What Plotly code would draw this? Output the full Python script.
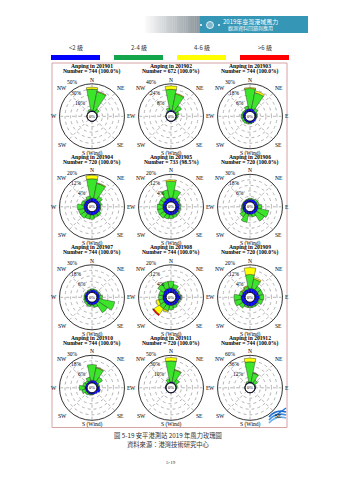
import numpy as np
import plotly.graph_objects as go

# ---- data -----------------------------------------------------------------
DIRECTIONS = ["N", "NNE", "NE", "ENE", "E", "ESE", "SE", "SSE",
              "S", "SSW", "SW", "WSW", "W", "WNW", "NW", "NNW"]
MONTHS = ["201901", "201902", "201903", "201904", "201905", "201906",
          "201907", "201908", "201909", "201910", "201911", "201912"]
COUNTS = [744, 672, 744, 720, 733, 720, 744, 744, 720, 744, 720, 744]
COVERAGE = ["100.0%", "100.0%", "100.0%", "100.0%", "98.5%", "100.0%",
            "100.0%", "100.0%", "100.0%", "100.0%", "100.0%", "100.0%"]
RING_STEP = [10, 8, 6, 4, 4, 6, 6, 4, 4, 6, 10, 12]   # % per ring, 5 rings
CLASS_LABELS = ["<2 級", "2-4 級", "4-6 級", ">6 級"]
COMPASS = ["N", "NE", "E", "SE", "S (Wind)", "SW", "W", "NW"]

# frequency (%) by direction, one row per month
SPEED_LT2 = [
    [1.5, 1.5, 1.0, 0.8, 0.8, 0.5, 0.5, 0.5, 0.8, 0.5, 0.5, 0.5, 0.5, 0.5, 0.8, 1.2],
    [2.0, 2.0, 1.5, 1.0, 1.0, 1.0, 0.8, 0.6, 0.6, 0.5, 0.5, 0.5, 0.5, 0.5, 0.8, 1.5],
    [3.0, 3.0, 2.0, 2.0, 2.0, 2.0, 2.0, 2.0, 2.0, 2.0, 2.0, 2.0, 2.5, 2.5, 2.5, 3.0],
    [2.8, 2.8, 2.5, 2.5, 2.5, 2.5, 2.5, 2.5, 2.5, 2.5, 2.5, 2.5, 2.5, 2.5, 2.5, 2.5],
    [3.0, 3.0, 2.5, 2.5, 2.5, 2.5, 2.5, 2.5, 2.5, 2.5, 2.5, 2.5, 2.5, 2.5, 2.5, 3.0],
    [3.0, 3.0, 3.0, 3.0, 3.5, 3.5, 3.5, 3.0, 3.0, 3.0, 3.0, 3.0, 3.0, 3.0, 3.0, 3.0],
    [3.0, 3.0, 3.0, 3.0, 3.0, 3.0, 3.0, 3.0, 3.0, 3.0, 2.5, 2.5, 2.5, 2.5, 2.5, 2.5],
    [3.2, 3.0, 2.5, 2.5, 3.5, 2.5, 2.5, 2.5, 2.5, 2.5, 2.5, 2.5, 2.5, 2.5, 3.0, 3.2],
    [3.0, 3.0, 3.0, 3.0, 3.5, 3.0, 3.0, 3.0, 3.0, 3.0, 3.0, 3.0, 3.0, 2.5, 2.5, 2.5],
    [3.0, 3.0, 2.5, 2.0, 2.5, 4.0, 2.5, 2.0, 2.0, 2.0, 2.0, 2.0, 2.5, 2.0, 2.0, 2.5],
    [2.0, 2.0, 1.5, 1.0, 1.0, 1.0, 0.8, 0.8, 0.8, 0.8, 0.8, 0.8, 1.0, 1.0, 1.0, 1.5],
    [2.0, 2.0, 1.5, 1.0, 1.0, 0.8, 0.8, 0.6, 0.6, 0.6, 0.6, 0.6, 0.8, 0.8, 1.0, 1.5],
]
SPEED_2_4 = [
    [39.0, 35.0, 6.0, 1.0, 0.0, 0.0, 0.0, 0.0, 0.0, 0.0, 0.0, 0.0, 0.0, 0.0, 0.5, 3.0],
    [30.0, 24.0, 10.0, 4.0, 2.0, 1.0, 0.0, 0.0, 0.0, 0.0, 0.0, 0.0, 0.0, 0.0, 0.5, 4.0],
    [22.0, 18.0, 3.0, 1.0, 0.5, 0.0, 0.0, 0.5, 1.0, 1.5, 2.0, 2.0, 2.0, 1.5, 1.0, 3.0],
    [14.0, 11.0, 3.0, 1.0, 0.5, 0.5, 2.0, 2.0, 3.0, 3.0, 4.0, 4.0, 4.5, 2.0, 1.0, 2.0],
    [12.0, 6.0, 2.0, 1.0, 1.0, 1.0, 1.5, 2.0, 2.5, 3.0, 4.0, 4.0, 4.0, 3.0, 3.0, 6.0],
    [1.0, 1.0, 2.0, 2.0, 4.0, 12.0, 10.0, 3.0, 2.0, 9.0, 5.0, 2.0, 1.0, 0.5, 0.5, 0.5],
    [1.0, 1.0, 1.0, 1.5, 3.0, 17.0, 12.0, 3.0, 1.5, 2.0, 2.0, 1.5, 1.0, 1.0, 0.5, 1.0],
    [5.0, 3.0, 1.0, 1.0, 1.0, 1.0, 1.0, 2.0, 3.0, 4.0, 4.0, 3.0, 3.0, 3.0, 5.0, 5.0],
    [10.0, 7.0, 3.0, 3.0, 3.0, 3.0, 1.0, 1.0, 1.0, 1.0, 3.0, 5.0, 5.0, 2.0, 1.0, 2.0],
    [17.0, 14.0, 6.0, 1.0, 0.5, 0.0, 0.0, 0.0, 0.5, 1.0, 2.0, 4.0, 6.0, 3.0, 2.0, 4.0],
    [38.0, 22.0, 8.0, 2.0, 1.0, 0.0, 0.0, 0.0, 0.0, 0.0, 0.0, 0.0, 0.5, 0.5, 1.0, 6.0],
    [44.0, 20.0, 8.0, 2.0, 0.5, 0.0, 0.0, 0.0, 0.0, 0.0, 0.0, 0.0, 0.0, 0.0, 0.5, 3.0],
]
SPEED_4_6 = [
    [3.5, 1.0, 0, 0, 0, 0, 0, 0, 0, 0, 0, 0, 0, 0, 0, 0],
    [5.0, 1.0, 0, 0, 0, 0, 0, 0, 0, 0, 0, 0, 0, 0, 0, 0],
    [1.0, 2.0, 0, 0, 0, 0, 0, 0, 0, 0, 0, 0, 0, 0, 0, 0],
    [2.5, 0.5, 0, 0, 0, 0, 0, 0, 0, 0, 0, 0, 0, 0, 0, 0],
    [1.0, 0, 0, 0, 0, 0, 0, 0, 0, 0, 0, 0, 0, 0, 0, 0],
    [0, 0, 0, 0, 0, 0, 0, 0, 0, 0, 0, 0, 0, 0, 0, 0],
    [0, 0, 0, 0, 0, 0, 0, 0, 0, 0, 0, 0, 0, 0, 0, 0],
    [0, 0, 0, 0, 0, 0, 0, 0, 0, 1.0, 5.0, 2.0, 0, 0, 0, 0],
    [5.0, 1.0, 0, 0, 0, 0, 0, 0, 0, 0, 0, 0, 0, 0, 0.5, 0.5],
    [0, 0.5, 0, 0, 0, 0, 0, 0, 0, 0, 0, 0, 0, 0, 0, 0],
    [6.0, 1.0, 0, 0, 0, 0, 0, 0, 0, 0, 0, 0, 0, 0, 0, 0],
    [8.0, 1.0, 0, 0, 0, 0, 0, 0, 0, 0, 0, 0, 0, 0, 0, 0],
]
SPEED_GT6 = [
    [0] * 16, [0] * 16, [0] * 16, [0] * 16, [0] * 16, [0] * 16, [0] * 16,
    [0, 0, 0, 0, 0, 0, 0, 0, 0, 0, 1.0, 0, 0, 0, 0, 0],
    [0] * 16, [0] * 16, [0] * 16, [0] * 16,
]

# ---- styling ---------------------------------------------------------------
W, H = 339, 480
SERIF = "Liberation Serif"
CJK = "Noto Sans CJK TC"
ROSE_COLORS = ["#0a0aff", "#3be62a", "#ffff00", "#ff0000"]
LEGEND_COLORS = ["#0000ff", "#12a54a", "#ffff00", "#ff0000"]
CLASS_DATA = [SPEED_LT2, SPEED_2_4, SPEED_4_6, SPEED_GT6]
GRID = "#b4b4b4"
HOLE = 0.15
RING_LABEL_BEARING = -22.5   # ring labels sit along NNW


def px(x):
    return x / W


def py(y):
    return 1 - y / H


def label(x, y, text, size, family=SERIF, color="black",
          xanchor="center", yanchor="middle"):
    return dict(x=px(x), y=py(y), xref="paper", yref="paper", text=text,
                showarrow=False, xanchor=xanchor, yanchor=yanchor, borderpad=0,
                font=dict(family=family, size=size, color=color))


fig = go.Figure()
annotations = []
shapes = []
theta = [i * 22.5 for i in range(16)]
R = 32.5

for k, month in enumerate(MONTHS):
    row, col = divmod(k, 3)
    cx, cy = 92 + 79 * col, 116.3 + 90.5 * row
    name = "polar" if k == 0 else f"polar{k + 1}"
    for cls, data in enumerate(CLASS_DATA):
        fig.add_trace(go.Barpolar(
            r=data[k], theta=theta, width=[22.5] * 16,
            marker=dict(color=ROSE_COLORS[cls], line=dict(color="#202020", width=0.4)),
            subplot=name, showlegend=False, hoverinfo="skip"))
    # calm circle
    fig.add_trace(go.Scatterpolar(
        r=[0] * 73, theta=np.linspace(0, 360, 73), mode="lines",
        line=dict(color="black", width=0.7), subplot=name,
        showlegend=False, hoverinfo="skip"))
    step = RING_STEP[k]
    rings = [step * i for i in range(1, 6)]
    fig.update_layout(**{name: dict(
        domain=dict(x=[px(cx - R), px(cx + R)], y=[py(cy + R), py(cy - R)]),
        hole=HOLE,
        barmode="stack",
        bgcolor="rgba(0,0,0,0)",
        angularaxis=dict(
            rotation=90, direction="clockwise",
            tickmode="array", tickvals=[0, 45, 90, 135, 180, 225, 270, 315],
            showticklabels=False,
            showline=True, linecolor="black", linewidth=0.8,
            showgrid=True, gridcolor=GRID, gridwidth=0.5, griddash="dot",
            ticks="", layer="below traces"),
        radialaxis=dict(
            range=[0, rings[-1]], tickmode="array", tickvals=rings,
            showticklabels=False, showline=False, ticks="", showgrid=True,
            gridcolor=GRID, gridwidth=0.5, griddash="dot", layer="below traces"),
    )})
    # compass labels just outside the rim
    d = 0.7071 * R + 1.5
    compass_pos = [
        (cx, cy - R - 0.3, "center", "bottom"),
        (cx + d, cy - d, "left", "bottom"),
        (cx + R + 1.5, cy, "left", "middle"),
        (cx + d, cy + d, "left", "top"),
        (cx, cy + R + 0.1, "center", "top"),
        (cx - d, cy + d, "right", "top"),
        (cx - R - 1.5, cy, "right", "middle"),
        (cx - d, cy - d, "right", "bottom"),
    ]
    for txt, (lx, ly, xa, ya) in zip(COMPASS, compass_pos):
        annotations.append(label(lx, ly, txt, 5.6, xanchor=xa, yanchor=ya))
    # ring labels (every other ring), placed where the ring meets the NNW bearing
    b = np.deg2rad(RING_LABEL_BEARING)
    for v in rings[::2]:
        rp = R * (HOLE + (1 - HOLE) * v / rings[-1])
        lx, ly = cx + rp * np.sin(b), cy - rp * np.cos(b)
        annotations.append(label(lx - 1, ly - 3.8, f"{v}%", 5.5, xanchor="right"))
    annotations.append(label(cx, cy - 49.9, f"<b>Anping in {month}</b>", 5.6))
    annotations.append(label(cx, cy - 44.6,
                             f"<b>Number = {COUNTS[k]} ({COVERAGE[k]})</b>", 5.6))
    annotations.append(label(cx, cy, "0%", 4.5))

# legend of wind-force classes
for i, (lab, colr) in enumerate(zip(CLASS_LABELS, LEGEND_COLORS)):
    x0 = 51 + 63 * i
    shapes.append(dict(type="rect", xref="paper", yref="paper",
                       x0=px(x0), x1=px(x0 + 49), y0=py(60), y1=py(55),
                       fillcolor=colr, line=dict(width=0)))
    annotations.append(label(x0 + 24.5, 47.5, lab, 6, CJK, "#333"))

# frame around the panels
shapes.append(dict(type="rect", xref="paper", yref="paper",
                   x0=px(52), x1=px(287), y0=py(427.5), y1=py(63),
                   line=dict(color="#d6a3a3", width=1), fillcolor="rgba(0,0,0,0)"))

# header banner
n_strip = 30
for i in range(n_strip):
    t = i / (n_strip - 1)
    c0 = np.array([250, 250, 250])
    c1 = np.array([140, 150, 156])
    c = (c0 + (c1 - c0) * t).astype(int)
    xa = 145 + 55 * i / n_strip
    shapes.append(dict(type="rect", xref="paper", yref="paper",
                       x0=px(xa), x1=px(xa + 55 / n_strip + 0.3), y0=py(33), y1=py(16),
                       fillcolor=f"rgb({c[0]},{c[1]},{c[2]})", line=dict(width=0)))
shapes.append(dict(type="rect", xref="paper", yref="paper",
                   x0=px(200), x1=px(308), y0=py(33), y1=py(16),
                   fillcolor="#3596b6", line=dict(width=0)))
shapes.append(dict(type="circle", xref="paper", yref="paper",
                   x0=px(206.5), x1=px(213.5), y0=py(28.5), y1=py(21.5),
                   fillcolor="#7fb8cc", line=dict(color="white", width=0.8)))
for dx in (-9, 9):
    shapes.append(dict(type="circle", xref="paper", yref="paper",
                       x0=px(210 + dx - 1), x1=px(210 + dx + 1), y0=py(26), y1=py(24),
                       fillcolor="white", line=dict(width=0)))
annotations.append(label(250, 21.5, "2019年臺灣港域風力", 6, CJK, "white"))
annotations.append(label(250, 28, "觀測資料回饋與應用", 5, CJK, "#e8f4f8"))

# institute mark in the frame corner
for j, col_ in enumerate(["#1f6fd0", "#3d8fe0", "#6fb0ea"]):
    off = j * 3
    path = (f"M {px(269)} {py(417 + off)} "
            f"Q {px(276)} {py(409 + off)} {px(286)} {py(412 + off)}")
    shapes.append(dict(type="path", xref="paper", yref="paper", path=path,
                       line=dict(color=col_, width=1.6)))
shapes.append(dict(type="path", xref="paper", yref="paper",
                   path=f"M {px(275)} {py(416)} L {px(286)} {py(408)}",
                   line=dict(color="#1f6fd0", width=1.2)))

# caption
annotations.append(label(168, 435, "圖 5-19 安平港測站 2019 年風力玫瑰圖", 6.3, CJK, "#333"))
annotations.append(label(168, 444, "資料來源：港灣技術研究中心", 6.3, CJK, "#333"))
annotations.append(label(171, 462, "5-19", 5, SERIF, "#333"))

fig.update_layout(
    width=W, height=H, margin=dict(l=0, r=0, t=0, b=0),
    paper_bgcolor="white", plot_bgcolor="white",
    annotations=annotations, shapes=shapes, showlegend=False,
)
fig.write_html("out.html")
